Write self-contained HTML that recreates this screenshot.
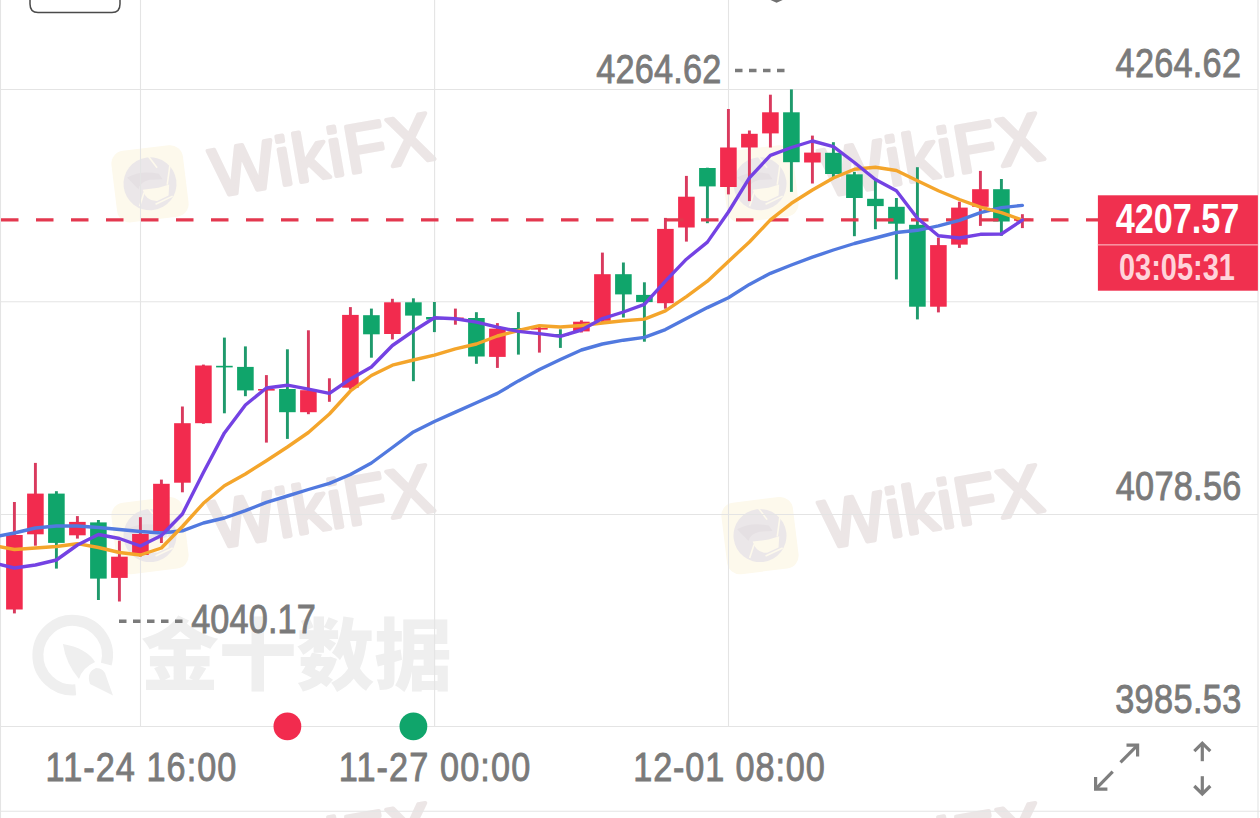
<!DOCTYPE html>
<html><head><meta charset="utf-8"><style>
html,body{margin:0;padding:0;background:#fff;width:1260px;height:818px;overflow:hidden}
svg{display:block}
.ax{font-family:"Liberation Sans",sans-serif;fill:#7a7a7a;font-size:40.8px;stroke:#7a7a7a;stroke-width:0.9px}
</style></head><body>
<svg width="1260" height="818" viewBox="0 0 1260 818">
<rect width="1260" height="818" fill="#fff"/>
<!-- watermarks -->
<g transform="translate(150,183.8)">
<g transform="rotate(-7)">
<rect x="-36" y="-36" width="72" height="72" rx="13" fill="#fdf9ec"/>
<circle cx="0" cy="0" r="26.5" fill="#ebe7e9"/>
<path d="M-8,5 Q-6,17 5,18 L17,14 L19,3 L8,5 Z" fill="#fdf9ec"/>
<path d="M-22,-9 Q-8,-15 10,-9 L13,-3 L0,-4 Q-10,-3 -12,4 Z" fill="#e5e0e3"/>
<g stroke="#fdf9ec" stroke-width="1.6" fill="none"><path d="M2,-27 L9,-15"/><path d="M22,-16 L17,3"/><path d="M21,15 L3,21"/><path d="M-13,21 L-7,8"/></g>
</g>
<g transform="rotate(-9.8)">
<text x="62" y="24" font-family="Liberation Sans, sans-serif" font-weight="400" font-size="68" fill="#ece6e6" stroke="#ece6e6" stroke-width="4" stroke-linejoin="round" stroke-linecap="round" textLength="224" lengthAdjust="spacing">WikiFX</text>
</g>
</g><g transform="translate(760,183.8)">
<g transform="rotate(-7)">
<rect x="-36" y="-36" width="72" height="72" rx="13" fill="#fdf9ec"/>
<circle cx="0" cy="0" r="26.5" fill="#ebe7e9"/>
<path d="M-8,5 Q-6,17 5,18 L17,14 L19,3 L8,5 Z" fill="#fdf9ec"/>
<path d="M-22,-9 Q-8,-15 10,-9 L13,-3 L0,-4 Q-10,-3 -12,4 Z" fill="#e5e0e3"/>
<g stroke="#fdf9ec" stroke-width="1.6" fill="none"><path d="M2,-27 L9,-15"/><path d="M22,-16 L17,3"/><path d="M21,15 L3,21"/><path d="M-13,21 L-7,8"/></g>
</g>
<g transform="rotate(-9.8)">
<text x="62" y="24" font-family="Liberation Sans, sans-serif" font-weight="400" font-size="68" fill="#ece6e6" stroke="#ece6e6" stroke-width="4" stroke-linejoin="round" stroke-linecap="round" textLength="224" lengthAdjust="spacing">WikiFX</text>
</g>
</g><g transform="translate(150,535.6)">
<g transform="rotate(-7)">
<rect x="-36" y="-36" width="72" height="72" rx="13" fill="#fdf9ec"/>
<circle cx="0" cy="0" r="26.5" fill="#ebe7e9"/>
<path d="M-8,5 Q-6,17 5,18 L17,14 L19,3 L8,5 Z" fill="#fdf9ec"/>
<path d="M-22,-9 Q-8,-15 10,-9 L13,-3 L0,-4 Q-10,-3 -12,4 Z" fill="#e5e0e3"/>
<g stroke="#fdf9ec" stroke-width="1.6" fill="none"><path d="M2,-27 L9,-15"/><path d="M22,-16 L17,3"/><path d="M21,15 L3,21"/><path d="M-13,21 L-7,8"/></g>
</g>
<g transform="rotate(-9.8)">
<text x="62" y="24" font-family="Liberation Sans, sans-serif" font-weight="400" font-size="68" fill="#ece6e6" stroke="#ece6e6" stroke-width="4" stroke-linejoin="round" stroke-linecap="round" textLength="224" lengthAdjust="spacing">WikiFX</text>
</g>
</g><g transform="translate(760,535.6)">
<g transform="rotate(-7)">
<rect x="-36" y="-36" width="72" height="72" rx="13" fill="#fdf9ec"/>
<circle cx="0" cy="0" r="26.5" fill="#ebe7e9"/>
<path d="M-8,5 Q-6,17 5,18 L17,14 L19,3 L8,5 Z" fill="#fdf9ec"/>
<path d="M-22,-9 Q-8,-15 10,-9 L13,-3 L0,-4 Q-10,-3 -12,4 Z" fill="#e5e0e3"/>
<g stroke="#fdf9ec" stroke-width="1.6" fill="none"><path d="M2,-27 L9,-15"/><path d="M22,-16 L17,3"/><path d="M21,15 L3,21"/><path d="M-13,21 L-7,8"/></g>
</g>
<g transform="rotate(-9.8)">
<text x="62" y="24" font-family="Liberation Sans, sans-serif" font-weight="400" font-size="68" fill="#ece6e6" stroke="#ece6e6" stroke-width="4" stroke-linejoin="round" stroke-linecap="round" textLength="224" lengthAdjust="spacing">WikiFX</text>
</g>
</g><g transform="translate(150,873.6)">
<g transform="rotate(-7)">
<rect x="-36" y="-36" width="72" height="72" rx="13" fill="#fdf9ec"/>
<circle cx="0" cy="0" r="26.5" fill="#ebe7e9"/>
<path d="M-8,5 Q-6,17 5,18 L17,14 L19,3 L8,5 Z" fill="#fdf9ec"/>
<path d="M-22,-9 Q-8,-15 10,-9 L13,-3 L0,-4 Q-10,-3 -12,4 Z" fill="#e5e0e3"/>
<g stroke="#fdf9ec" stroke-width="1.6" fill="none"><path d="M2,-27 L9,-15"/><path d="M22,-16 L17,3"/><path d="M21,15 L3,21"/><path d="M-13,21 L-7,8"/></g>
</g>
<g transform="rotate(-9.8)">
<text x="62" y="24" font-family="Liberation Sans, sans-serif" font-weight="400" font-size="68" fill="#ece6e6" stroke="#ece6e6" stroke-width="4" stroke-linejoin="round" stroke-linecap="round" textLength="224" lengthAdjust="spacing">WikiFX</text>
</g>
</g><g transform="translate(760,873.6)">
<g transform="rotate(-7)">
<rect x="-36" y="-36" width="72" height="72" rx="13" fill="#fdf9ec"/>
<circle cx="0" cy="0" r="26.5" fill="#ebe7e9"/>
<path d="M-8,5 Q-6,17 5,18 L17,14 L19,3 L8,5 Z" fill="#fdf9ec"/>
<path d="M-22,-9 Q-8,-15 10,-9 L13,-3 L0,-4 Q-10,-3 -12,4 Z" fill="#e5e0e3"/>
<g stroke="#fdf9ec" stroke-width="1.6" fill="none"><path d="M2,-27 L9,-15"/><path d="M22,-16 L17,3"/><path d="M21,15 L3,21"/><path d="M-13,21 L-7,8"/></g>
</g>
<g transform="rotate(-9.8)">
<text x="62" y="24" font-family="Liberation Sans, sans-serif" font-weight="400" font-size="68" fill="#ece6e6" stroke="#ece6e6" stroke-width="4" stroke-linejoin="round" stroke-linecap="round" textLength="224" lengthAdjust="spacing">WikiFX</text>
</g>
</g>
<g>
<path d="M75.7,689.8 A34.8,34.8 0 1 1 106.3,664.1" fill="none" stroke="#efefef" stroke-width="11"/>
<path d="M62.9,644.1 Q86,648 95,662 Q82,668 79,679 Q66,664 62.9,644.1 Z" fill="#efefef"/>
<path d="M113,695.5 L90,684 Q86,672 96,668 Q104,668 106,676 Z" fill="#efefef"/>
<text x="141" y="684" font-family="Liberation Sans, Noto Sans CJK SC, sans-serif" font-weight="900" font-size="78" fill="#efefef" textLength="311" lengthAdjust="spacingAndGlyphs">金十数据</text>
</g>
<!-- grid -->
<g stroke="#e4e4e4" stroke-width="1.1">
<line x1="0" y1="89.5" x2="1258" y2="89.5"/>
<line x1="0" y1="301.7" x2="1258" y2="301.7"/>
<line x1="0" y1="514.5" x2="1258" y2="514.5"/>
<line x1="0" y1="726.5" x2="1258" y2="726.5"/>
<line x1="0" y1="811.3" x2="1260" y2="811.3"/>
<line x1="140.5" y1="0" x2="140.5" y2="726.5"/>
<line x1="434.6" y1="0" x2="434.6" y2="726.5"/>
<line x1="728.5" y1="0" x2="728.5" y2="726.5"/>
<line x1="0.5" y1="0" x2="0.5" y2="818"/>
<line x1="1258" y1="0" x2="1258" y2="818"/>
</g>
<!-- top tooltip remnant -->
<path d="M30,-2 L30,4 Q30,12.5 38,12.5 L112,12.5 Q120,12.5 120,4 L120,-2" fill="#fff" stroke="#4a4a4a" stroke-width="1.5"/>
<path d="M764,-4.5 L776.6,1.4 L789.2,-4.5" fill="none" stroke="#707070" stroke-width="2.6"/>
<!-- candles -->
<rect x="12.95" y="502" width="2.9" height="111.40" fill="#d93a5e"/>
<rect x="6.10" y="535" width="16.6" height="74.50" fill="#f22b4e"/>
<rect x="33.95" y="462.9" width="2.9" height="82.80" fill="#d93a5e"/>
<rect x="27.10" y="493.6" width="16.6" height="40.70" fill="#f22b4e"/>
<rect x="54.95" y="491.2" width="2.9" height="77.40" fill="#1f9a6c"/>
<rect x="48.10" y="493.6" width="16.6" height="49.30" fill="#10a56b"/>
<rect x="75.95" y="516.1" width="2.9" height="22.50" fill="#d93a5e"/>
<rect x="69.10" y="521.9" width="16.6" height="13.40" fill="#f22b4e"/>
<rect x="96.95" y="520" width="2.9" height="80.00" fill="#1f9a6c"/>
<rect x="90.10" y="522.4" width="16.6" height="56.20" fill="#10a56b"/>
<rect x="117.95" y="540.7" width="2.9" height="60.80" fill="#d93a5e"/>
<rect x="111.10" y="556.7" width="16.6" height="21.20" fill="#f22b4e"/>
<rect x="138.95" y="517.2" width="2.9" height="39.30" fill="#d93a5e"/>
<rect x="132.10" y="534" width="16.6" height="21.00" fill="#f22b4e"/>
<rect x="159.95" y="479.6" width="2.9" height="63.40" fill="#d93a5e"/>
<rect x="153.10" y="483.8" width="16.6" height="47.20" fill="#f22b4e"/>
<rect x="180.95" y="406.5" width="2.9" height="85.80" fill="#d93a5e"/>
<rect x="174.10" y="423.2" width="16.6" height="59.50" fill="#f22b4e"/>
<rect x="201.95" y="364.6" width="2.9" height="59.20" fill="#d93a5e"/>
<rect x="195.10" y="365.5" width="16.6" height="57.70" fill="#f22b4e"/>
<rect x="222.95" y="337.6" width="2.9" height="75.70" fill="#1f9a6c"/>
<rect x="216.10" y="365.8" width="16.6" height="1.60" fill="#10a56b"/>
<rect x="243.95" y="346.4" width="2.9" height="49.80" fill="#1f9a6c"/>
<rect x="237.10" y="366.9" width="16.6" height="23.50" fill="#10a56b"/>
<rect x="264.95" y="375.1" width="2.9" height="67.50" fill="#d93a5e"/>
<rect x="258.10" y="389" width="16.6" height="1.60" fill="#f22b4e"/>
<rect x="285.95" y="349.3" width="2.9" height="89.60" fill="#1f9a6c"/>
<rect x="279.10" y="389" width="16.6" height="23.20" fill="#10a56b"/>
<rect x="306.95" y="330.3" width="2.9" height="83.90" fill="#d93a5e"/>
<rect x="300.10" y="390.2" width="16.6" height="22.00" fill="#f22b4e"/>
<rect x="327.95" y="378.3" width="2.9" height="23.50" fill="#d93a5e"/>
<rect x="348.95" y="307.1" width="2.9" height="82.40" fill="#d93a5e"/>
<rect x="342.10" y="314.9" width="16.6" height="72.80" fill="#f22b4e"/>
<rect x="369.95" y="308.6" width="2.9" height="49.10" fill="#1f9a6c"/>
<rect x="363.10" y="315.2" width="16.6" height="19.10" fill="#10a56b"/>
<rect x="390.95" y="298.8" width="2.9" height="40.60" fill="#d93a5e"/>
<rect x="384.10" y="302.3" width="16.6" height="31.70" fill="#f22b4e"/>
<rect x="411.95" y="298.3" width="2.9" height="82.90" fill="#1f9a6c"/>
<rect x="405.10" y="302.3" width="16.6" height="13.30" fill="#10a56b"/>
<rect x="432.95" y="302" width="2.9" height="30.10" fill="#1f9a6c"/>
<rect x="426.10" y="317" width="16.6" height="2.50" fill="#10a56b"/>
<rect x="453.95" y="308.6" width="2.9" height="16.10" fill="#d93a5e"/>
<rect x="447.10" y="317.5" width="16.6" height="2.00" fill="#f22b4e"/>
<rect x="474.95" y="312.2" width="2.9" height="51.60" fill="#1f9a6c"/>
<rect x="468.10" y="318" width="16.6" height="38.50" fill="#10a56b"/>
<rect x="495.95" y="323.1" width="2.9" height="44.80" fill="#d93a5e"/>
<rect x="489.10" y="328.6" width="16.6" height="28.30" fill="#f22b4e"/>
<rect x="516.95" y="312.1" width="2.9" height="42.50" fill="#1f9a6c"/>
<rect x="510.10" y="328" width="16.6" height="1.60" fill="#10a56b"/>
<rect x="537.95" y="325.7" width="2.9" height="26.90" fill="#d93a5e"/>
<rect x="531.10" y="328" width="16.6" height="1.60" fill="#f22b4e"/>
<rect x="558.95" y="329.3" width="2.9" height="18.60" fill="#1f9a6c"/>
<rect x="552.10" y="334" width="16.6" height="1.60" fill="#10a56b"/>
<rect x="579.95" y="320.3" width="2.9" height="12.20" fill="#d93a5e"/>
<rect x="573.10" y="321.7" width="16.6" height="9.70" fill="#f22b4e"/>
<rect x="600.95" y="252.6" width="2.9" height="69.40" fill="#d93a5e"/>
<rect x="594.10" y="274.2" width="16.6" height="46.60" fill="#f22b4e"/>
<rect x="621.95" y="262.5" width="2.9" height="55.00" fill="#1f9a6c"/>
<rect x="615.10" y="274.2" width="16.6" height="20.20" fill="#10a56b"/>
<rect x="642.95" y="282.3" width="2.9" height="59.40" fill="#1f9a6c"/>
<rect x="636.10" y="294.9" width="16.6" height="7.20" fill="#10a56b"/>
<rect x="663.95" y="217.9" width="2.9" height="90.80" fill="#d93a5e"/>
<rect x="657.10" y="228.9" width="16.6" height="74.30" fill="#f22b4e"/>
<rect x="684.95" y="175.9" width="2.9" height="65.70" fill="#d93a5e"/>
<rect x="678.10" y="196.7" width="16.6" height="30.80" fill="#f22b4e"/>
<rect x="705.95" y="167.7" width="2.9" height="55.50" fill="#1f9a6c"/>
<rect x="699.10" y="168" width="16.6" height="18.40" fill="#10a56b"/>
<rect x="726.95" y="109" width="2.9" height="85.40" fill="#d93a5e"/>
<rect x="720.10" y="147.5" width="16.6" height="39.50" fill="#f22b4e"/>
<rect x="747.95" y="130.5" width="2.9" height="70.60" fill="#d93a5e"/>
<rect x="741.10" y="133.8" width="16.6" height="13.70" fill="#f22b4e"/>
<rect x="768.95" y="94.7" width="2.9" height="52.80" fill="#d93a5e"/>
<rect x="762.10" y="112.3" width="16.6" height="21.10" fill="#f22b4e"/>
<rect x="789.95" y="89.4" width="2.9" height="102.50" fill="#1f9a6c"/>
<rect x="783.10" y="112.3" width="16.6" height="49.90" fill="#10a56b"/>
<rect x="810.95" y="135.6" width="2.9" height="47.90" fill="#d93a5e"/>
<rect x="804.10" y="152.6" width="16.6" height="9.90" fill="#f22b4e"/>
<rect x="831.95" y="142.2" width="2.9" height="35.60" fill="#1f9a6c"/>
<rect x="825.10" y="152.8" width="16.6" height="21.20" fill="#10a56b"/>
<rect x="852.95" y="171.8" width="2.9" height="64.40" fill="#1f9a6c"/>
<rect x="846.10" y="174.3" width="16.6" height="23.70" fill="#10a56b"/>
<rect x="873.95" y="180" width="2.9" height="49.20" fill="#1f9a6c"/>
<rect x="867.10" y="198.8" width="16.6" height="7.30" fill="#10a56b"/>
<rect x="894.95" y="198" width="2.9" height="81.40" fill="#1f9a6c"/>
<rect x="888.10" y="206.8" width="16.6" height="16.90" fill="#10a56b"/>
<rect x="915.95" y="167.2" width="2.9" height="152.20" fill="#1f9a6c"/>
<rect x="909.10" y="224.8" width="16.6" height="81.90" fill="#10a56b"/>
<rect x="936.95" y="237.6" width="2.9" height="74.80" fill="#d93a5e"/>
<rect x="930.10" y="245.1" width="16.6" height="61.60" fill="#f22b4e"/>
<rect x="957.95" y="201.7" width="2.9" height="46.20" fill="#d93a5e"/>
<rect x="951.10" y="207.6" width="16.6" height="37.00" fill="#f22b4e"/>
<rect x="978.95" y="170.9" width="2.9" height="55.00" fill="#d93a5e"/>
<rect x="972.10" y="189.2" width="16.6" height="17.60" fill="#f22b4e"/>
<rect x="999.95" y="179" width="2.9" height="56.80" fill="#1f9a6c"/>
<rect x="993.10" y="189.2" width="16.6" height="32.30" fill="#10a56b"/>
<rect x="1020.95" y="214.2" width="2.9" height="13.90" fill="#d93a5e"/>
<rect x="1014.10" y="218.6" width="16.6" height="2.20" fill="#f22b4e"/>
<!-- price dashed line -->
<line x1="1" y1="219.9" x2="1098" y2="219.9" stroke="#e3384f" stroke-width="3.2" stroke-dasharray="17.5 17.5"/>
<!-- MAs -->
<polyline points="-6.6,537.0 14.4,533.0 35.4,528.0 56.4,526.0 77.4,526.0 98.4,527.5 119.4,529.5 140.4,531.5 161.4,533.0 182.4,530.8 203.4,523.0 224.4,518.0 245.4,510.6 266.4,502.4 287.4,496.0 308.4,489.5 329.4,483.4 350.4,474.5 371.4,463.0 392.4,447.5 413.4,431.9 434.4,421.5 455.4,412.1 476.4,402.8 497.4,393.4 518.4,380.9 539.4,369.5 560.4,359.5 581.4,350.0 602.4,344.0 623.4,340.2 644.4,337.4 665.4,329.6 686.4,318.6 707.4,307.6 728.4,297.7 749.4,284.4 770.4,273.3 791.4,265.0 812.4,257.2 833.4,250.0 854.4,243.5 875.4,238.0 896.4,232.5 917.4,230.3 938.4,225.9 959.4,220.4 980.4,212.7 1001.4,207.6 1022.4,205.4" fill="none" stroke="#5179df" stroke-width="3.4" stroke-linejoin="round" stroke-linecap="round"/>
<polyline points="-6.6,545.5 14.4,549.5 35.4,548.0 56.4,546.5 77.4,543.7 98.4,547.5 119.4,552.5 140.4,555.0 161.4,548.0 182.4,526.5 203.4,503.3 224.4,485.7 245.4,474.0 266.4,460.8 287.4,447.0 308.4,432.5 329.4,414.0 350.4,391.0 371.4,375.5 392.4,365.2 413.4,360.0 434.4,355.2 455.4,348.8 476.4,344.0 497.4,336.0 518.4,330.5 539.4,325.7 560.4,327.0 581.4,325.5 602.4,323.0 623.4,320.8 644.4,319.1 665.4,310.9 686.4,296.6 707.4,281.2 728.4,261.4 749.4,242.0 770.4,219.9 791.4,203.3 812.4,190.0 833.4,178.0 854.4,169.2 875.4,167.3 896.4,170.5 917.4,180.8 938.4,190.7 959.4,199.5 980.4,207.2 1001.4,212.7 1022.4,220.0" fill="none" stroke="#f4a52b" stroke-width="3.4" stroke-linejoin="round" stroke-linecap="round"/>
<polyline points="-6.6,563.0 14.4,568.0 35.4,565.0 56.4,560.0 77.4,545.0 98.4,534.5 119.4,538.5 140.4,546.0 161.4,535.5 182.4,514.0 203.4,472.5 224.4,432.9 245.4,405.0 266.4,388.0 287.4,385.2 308.4,389.2 329.4,393.4 350.4,379.0 371.4,367.0 392.4,345.5 413.4,331.0 434.4,317.8 455.4,318.7 476.4,322.1 497.4,327.1 518.4,331.4 539.4,333.6 560.4,336.4 581.4,330.0 602.4,318.6 623.4,312.0 644.4,304.3 665.4,281.2 686.4,259.2 707.4,242.1 728.4,212.0 749.4,177.8 770.4,155.3 791.4,147.5 812.4,141.0 833.4,146.7 854.4,162.5 875.4,179.5 896.4,190.7 917.4,218.2 938.4,235.8 959.4,238.0 980.4,234.3 1001.4,234.0 1022.4,220.0" fill="none" stroke="#7442e3" stroke-width="3.4" stroke-linejoin="round" stroke-linecap="round"/>
<!-- max/min labels -->
<text class="ax" transform="translate(596.2,83.4) scale(0.84,1)" textLength="148.9" lengthAdjust="spacing">4264.62</text>
<line x1="735" y1="70.5" x2="785" y2="70.5" stroke="#7b7b7b" stroke-width="3.5" stroke-dasharray="7.5 6.5"/>
<line x1="119" y1="621.2" x2="183" y2="621.2" stroke="#7b7b7b" stroke-width="3.5" stroke-dasharray="7.5 6.5"/>
<text class="ax" transform="translate(191.2,633.2) scale(0.84,1)" textLength="148.3" lengthAdjust="spacing">4040.17</text>
<!-- right axis labels -->
<text class="ax" transform="translate(1115.6,76.5) scale(0.84,1)" textLength="149.3" lengthAdjust="spacing">4264.62</text>
<text class="ax" transform="translate(1115.8,499.9) scale(0.84,1)" textLength="149.4" lengthAdjust="spacing">4078.56</text>
<text class="ax" transform="translate(1115.2,712.9) scale(0.84,1)" textLength="150.1" lengthAdjust="spacing">3985.53</text>
<!-- price box -->
<rect x="1097.9" y="195.3" width="160" height="95.4" fill="#f0304f"/>
<rect x="1097.9" y="244" width="160" height="1.6" fill="#f7909f"/>
<text x="1115.7" y="232.9" font-family="Liberation Sans, sans-serif" font-weight="700" font-size="42" fill="#fff" textLength="123.6" lengthAdjust="spacingAndGlyphs">4207.57</text>
<text x="1118.9" y="280" font-family="Liberation Sans, sans-serif" font-weight="700" font-size="36.8" fill="#ffd3da" textLength="116" lengthAdjust="spacingAndGlyphs">03:05:31</text>
<!-- x axis -->
<circle cx="287.4" cy="726.4" r="13.9" fill="#f22b4e"/>
<circle cx="413.4" cy="726.4" r="13.9" fill="#10a56b"/>
<text class="ax" transform="translate(45.6,781.3) scale(0.84,1)" textLength="227.1" lengthAdjust="spacing">11-24 16:00</text>
<text class="ax" transform="translate(338.8,781.3) scale(0.84,1)" textLength="227.9" lengthAdjust="spacing">11-27 00:00</text>
<text class="ax" transform="translate(633.2,781.3) scale(0.84,1)" textLength="228.1" lengthAdjust="spacing">12-01 08:00</text>
<!-- icons -->
<g stroke="#7e7e7e" stroke-width="3.2" fill="none" stroke-linecap="butt">
<path d="M1126.5,745.1 L1137.6,745.1 L1137.6,756.4"/>
<path d="M1137.6,745.1 L1120.5,762.4"/>
<path d="M1095.6,777 L1095.6,789.2 L1107.4,789.2"/>
<path d="M1095.6,789.2 L1112.7,771.7"/>
<path d="M1202.3,744 L1202.3,761.2"/>
<path d="M1194.3,751.2 L1202.3,743.2 L1210.3,751.2"/>
<path d="M1202.3,776.2 L1202.3,793"/>
<path d="M1194.3,786 L1202.3,794 L1210.3,786"/>
</g>
</svg>
</body></html>
